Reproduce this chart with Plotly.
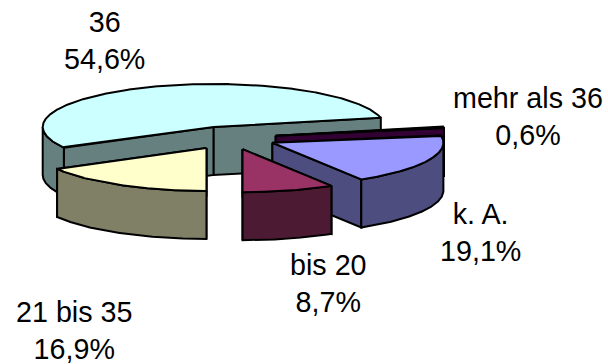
import numpy as np
import plotly.graph_objects as go

# Survey shares in percent, clockwise from the first slice
categories = ["36", "mehr als 36", "k. A.", "bis 20", "21 bis 35"]
shares = [54.6, 0.6, 19.1, 8.7, 16.9]
share_labels = ["54,6%", "0,6%", "19,1%", "8,7%", "16,9%"]
top_colors = ["#CCFFFF", "#660066", "#9999FF", "#993366", "#FFFFCC"]
side_colors = ["#668080", "#330033", "#4D4D80", "#4D1A33", "#808066"]
label_x = [104, 528, 481, 328, 74]
label_y = [40, 117, 233, 283, 330]

# Pie projection: unit radius, squashed vertically, with an extruded rim
WIDTH, HEIGHT = 608, 364
CENTER_X, CENTER_Y = 230.0, 137.9
RADIUS_PX = 171.0
TILT = 43.0 / 171.0
DEPTH = 48.0 / 171.0
EXPLODE = 0.272
START_DEG = 208.8
OUTLINE = dict(color="black", width=2)

fig = go.Figure()


def add_face(xs, ys, color):
    fig.add_trace(go.Scatter(
        x=xs, y=ys, mode="lines", fill="toself", fillcolor=color,
        line=OUTLINE, hoverinfo="skip", showlegend=False,
    ))


def add_slice(a0, a1, top, side):
    mid = np.radians((a0 + a1) / 2)
    ox, oy = EXPLODE * np.cos(mid), EXPLODE * np.sin(mid) * TILT
    t = np.radians(np.linspace(a0, a1, 720))
    ax = ox + np.cos(t)
    ay = oy + np.sin(t) * TILT

    # cut faces running from the apex to each end of the arc
    for ex, ey in ((ax[0], ay[0]), (ax[-1], ay[-1])):
        add_face([ox, ex, ex, ox, ox],
                 [oy, ey, ey - DEPTH, oy - DEPTH, oy], side)
    # outer rim, only where it faces the viewer
    front = np.sin(t) <= 0
    if front.any():
        fx, fy = ax[front], ay[front]
        add_face(np.r_[fx, fx[::-1], fx[0]],
                 np.r_[fy, fy[::-1] - DEPTH, fy[0]], side)
    # top surface
    add_face(np.r_[ox, ax, ox], np.r_[oy, ay, oy], top)


# Slice angles run clockwise from the starting angle
edges = START_DEG - np.cumsum([0] + shares) * 3.6
slices = [(edges[i], edges[i + 1], top_colors[i], side_colors[i])
          for i in range(len(shares))]

# Back-to-front paint order
for i in (0, 1, 2, 4, 3):
    add_slice(*slices[i])

for cat, pct, lx, ly in zip(categories, share_labels, label_x, label_y):
    fig.add_annotation(
        x=lx / WIDTH, y=1 - ly / HEIGHT, xref="paper", yref="paper",
        xanchor="center", yanchor="middle",
        text=f"{cat}<br>{pct}", showarrow=False, align="center",
        font=dict(family="Liberation Sans", size=28.7, color="black"),
    )

fig.update_layout(
    width=WIDTH, height=HEIGHT, margin=dict(l=0, r=0, t=0, b=0),
    paper_bgcolor="white", plot_bgcolor="white", showlegend=False,
    xaxis=dict(visible=False, fixedrange=True,
               range=[-CENTER_X / RADIUS_PX, (WIDTH - CENTER_X) / RADIUS_PX]),
    yaxis=dict(visible=False, fixedrange=True,
               range=[-(HEIGHT - CENTER_Y) / RADIUS_PX, CENTER_Y / RADIUS_PX]),
)

fig.write_html("out.html", config=dict(displayModeBar=False))
